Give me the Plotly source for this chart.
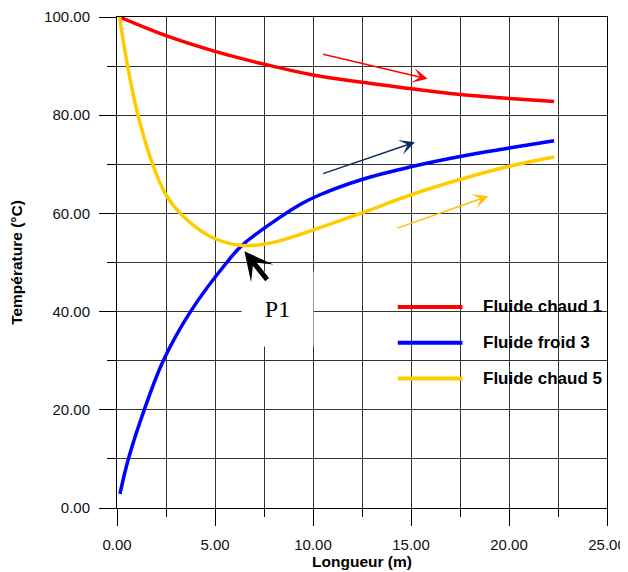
import plotly.graph_objects as go

# ---- data ----
red_x = [0.13, 2.5, 5.0, 7.5, 10.0, 12.5, 15.0, 17.5, 20.0, 22.3]
red_y = [100.0, 96.2, 93.0, 90.4, 88.2, 86.7, 85.4, 84.2, 83.4, 82.8]

blue_x = [0.15, 0.58, 1.39, 2.36, 3.75, 5.6, 6.41, 9.34, 10.36, 12.5, 15.0, 17.5, 20.0, 22.3]
blue_y = [2.9, 10.0, 20.0, 30.0, 40.0, 50.0, 53.6, 61.8, 63.8, 66.9, 69.5, 71.6, 73.3, 74.8]

yel_x = [0.13, 0.54, 1.07, 1.82, 2.5, 3.35, 4.76, 6.28, 7.64, 9.34, 10.36, 12.5, 15.0, 17.5, 20.0, 22.3]
yel_y = [100.0, 90.0, 80.0, 70.0, 63.8, 59.5, 55.3, 53.5, 53.8, 55.7, 57.1, 60.1, 63.8, 66.9, 69.6, 71.5]

series_names = ["Fluide chaud 1", "Fluide froid 3", "Fluide chaud 5"]
series_colors = ["#FF0000", "#0000FF", "#FFCC00"]

# flow-direction arrows: (tail x, tail y, head x, head y)
arrow_red = (10.44, 92.5, 15.85, 87.4)
arrow_blue = (10.44, 68.0, 15.2, 74.5)
arrow_yel = (14.23, 56.9, 18.94, 63.5)
arrow_p1 = (7.72, 46.2, 6.5, 52.3)

x_ticks = [0, 5, 10, 15, 20, 25]
y_ticks = [0, 20, 40, 60, 80, 100]

fig = go.Figure()
for xs, ys, name, col in zip([red_x, blue_x, yel_x], [red_y, blue_y, yel_y], series_names, series_colors):
    fig.add_trace(go.Scatter(x=xs, y=ys, mode="lines", name=name,
                             line=dict(color=col, width=3.5, shape="spline", smoothing=1.0),
                             showlegend=False, hoverinfo="skip"))

grid_col = "#333333"
# the page body has an 8px default margin, so the figure is 8px smaller and left/top margins shifted
fig.update_layout(
    width=620, height=564,
    margin=dict(l=109, r=21, t=9, b=64),
    paper_bgcolor="white", plot_bgcolor="white",
    font=dict(family="Liberation Sans, Arial, sans-serif", color="black"),
    xaxis=dict(range=[0, 25], tickvals=x_ticks, tickformat=".2f", automargin=False,
               showgrid=True, gridcolor=grid_col, gridwidth=1,
               minor=dict(dtick=2.5, tick0=0, showgrid=True, gridcolor=grid_col, gridwidth=1,
                          ticks="outside", ticklen=8, tickcolor="black"),
               ticks="outside", ticklen=17, tickcolor="black",
               showline=True, linecolor="black", linewidth=1, mirror=True,
               zeroline=False, tickfont=dict(size=15, color="#111"),
               ticklabelstandoff=6,
               title=dict(text="<b>Longueur (m)</b>", font=dict(size=15.5), standoff=2)),
    yaxis=dict(range=[0, 100], tickvals=y_ticks, tickformat=".2f", automargin=False,
               showgrid=True, gridcolor=grid_col, gridwidth=1,
               minor=dict(dtick=10, tick0=0, showgrid=True, gridcolor=grid_col, gridwidth=1,
                          ticks="outside", ticklen=9, tickcolor="black"),
               ticks="outside", ticklen=17, tickcolor="black",
               showline=True, linecolor="black", linewidth=1, mirror=True,
               zeroline=False, tickfont=dict(size=15, color="#111"),
               ticklabelstandoff=6,
               title=dict(text="<b>Température (°C)</b>", font=dict(size=15.5), standoff=18)),
)

annotations = []
# P1 label box
annotations.append(dict(xref="paper", yref="paper", x=0.3276, y=0.406, xanchor="center", yanchor="middle",
                        text="P1", showarrow=False, bgcolor="white", width=67, height=70, borderpad=2,
                        font=dict(family="Liberation Serif, Times New Roman, serif", size=24, color="black")))

def arrow(a, color, width, size):
    tx, ty, hx, hy = a
    return dict(x=hx, y=hy, ax=tx, ay=ty, xref="x", yref="y", axref="x", ayref="y",
                text="", showarrow=True, arrowhead=3, arrowsize=size, arrowwidth=width,
                arrowcolor=color, standoff=0, startstandoff=0)

annotations.append(arrow(arrow_red, "#FF0000", 1.5, 1.7))
annotations.append(arrow(arrow_blue, "#0B2A60", 1.5, 1.7))
annotations.append(arrow(arrow_yel, "#FFC000", 1.5, 1.7))
annotations.append(arrow(arrow_p1, "black", 5, 0.95))

# manual legend
leg_y = [0.4094, 0.3367, 0.264]
shapes = []
for name, col, ly in zip(series_names, series_colors, leg_y):
    shapes.append(dict(type="line", xref="paper", yref="paper", x0=0.573, x1=0.705, y0=ly, y1=ly,
                       line=dict(color=col, width=4)))
    annotations.append(dict(xref="paper", yref="paper", x=0.742, y=ly, xanchor="left", yanchor="middle",
                            text="<b>" + name + "</b>", showarrow=False,
                            font=dict(size=17, color="black")))

fig.update_layout(annotations=annotations, shapes=shapes)
fig.write_html("out.html")
